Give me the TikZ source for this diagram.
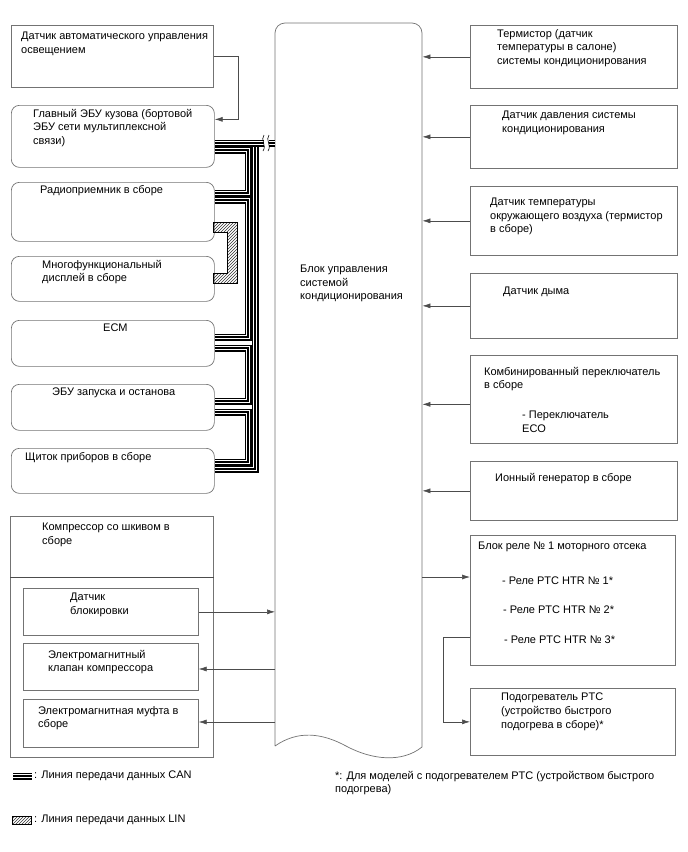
\documentclass[tikz,border=0pt]{standalone}
\usepackage{fontspec}
\setmainfont{Liberation Sans}
\usetikzlibrary{arrows.meta,patterns}
\begin{document}
\begin{tikzpicture}[x=1pt,y=-1pt,
  box/.style={draw=black!55, line width=0.7pt, anchor=north west, inner sep=0, fill=white},
  rbox/.style={box, rounded corners=8pt},
  txt/.style={anchor=north west, inner sep=0, align=left, font=\fontsize{11}{13.6}\selectfont},
  conn/.style={draw=black!70, line width=0.6pt},
  arr/.style={conn, -{Latex[length=8pt,width=5pt]}},
  can/.style={line width=7pt, black, line cap=butt,
    postaction={draw, white, line width=4.2pt},
    postaction={draw, black, line width=1.4pt}},
  lin/.style={draw=black, line width=0.6pt, pattern=north east lines, pattern color=black!80}
]
\useasboundingbox (0,0) rectangle (688,852);

% ---------- left column ----------
\node[box, minimum width=202pt, minimum height=62pt] (b1) at (11,25) {};
\node[rbox, minimum width=203pt, minimum height=62pt] (ecu) at (11,105) {};
\node[rbox, minimum width=203pt, minimum height=59pt] (radio) at (11,182) {};
\node[rbox, minimum width=203pt, minimum height=45pt] (disp) at (11,256) {};
\node[rbox, minimum width=203pt, minimum height=46pt] (ecm) at (11,320) {};
\node[rbox, minimum width=203pt, minimum height=46pt] (stop) at (11,384) {};
\node[rbox, minimum width=203pt, minimum height=45pt] (sh) at (11,448) {};

\node[txt] (t1) at (21,32) {Датчик автоматического управления\\освещением};
\node[txt] (tecu) at (33,109) {Главный ЭБУ кузова (бортовой\\ЭБУ сети мультиплексной\\связи)};
\node[txt] (tradio) at (40,185) {Радиоприемник в сборе};
\node[txt] (tdisp) at (42,260) {Многофункциональный\\дисплей в сборе};
\node[txt] (tecm) at (103,324) {ECM};
\node[txt] (tstop) at (52,388) {ЭБУ запуска и останова};
\node[txt] (tsh) at (25,452) {Щиток приборов в сборе};

% compressor group
\node[box, minimum width=203pt, minimum height=241pt] (comp) at (10,516) {};
\draw[conn] (comp.west |- 0,577) -- (comp.east |- 0,577);
\node[txt] (tcomp) at (42,523) {Компрессор со шкивом в\\сборе};
\node[box, minimum width=175pt, minimum height=47pt] (blok) at (23,588) {};
\node[box, minimum width=175pt, minimum height=47pt] (klap) at (23,643) {};
\node[box, minimum width=175pt, minimum height=48pt] (muft) at (23,699) {};
\node[txt] (tblok) at (70,593) {Датчик\\блокировки};
\node[txt] (tklap) at (48,650) {Электромагнитный\\клапан компрессора};
\node[txt] (tmuft) at (38,706) {Электромагнитная муфта в\\сборе};

% ---------- central block ----------
\node[inner sep=0, minimum width=147pt, minimum height=723pt, anchor=north west] (blk) at (275,23) {};
\draw[draw=black!55, line width=0.7pt, fill=white]
  (275,746) -- (275,33) arc[start angle=180, end angle=270, radius=10]
  -- (412,23) arc[start angle=270, end angle=360, radius=10]
  -- (422,747)
  .. controls (402,763) and (372,760) .. (346,746)
  .. controls (322,733) and (298,730) .. (275,746);
\node[txt] (tblk) at (300,265) {Блок управления\\системой\\кондиционирования};

% ---------- right column ----------
\node[box, minimum width=207pt, minimum height=63pt] (ra) at (470,25) {};
\node[box, minimum width=207pt, minimum height=63pt] (rb) at (470,105) {};
\node[box, minimum width=207pt, minimum height=69pt] (rc) at (470,186) {};
\node[box, minimum width=207pt, minimum height=65pt] (rd) at (470,273) {};
\node[box, minimum width=207pt, minimum height=88pt] (re) at (470,355) {};
\node[box, minimum width=207pt, minimum height=59pt] (rf) at (470,461) {};
\node[box, minimum width=205pt, minimum height=130pt] (rg) at (470,535) {};
\node[box, minimum width=205pt, minimum height=67pt] (rh) at (470,688) {};

\node[txt] (tra) at (497,29) {Термистор (датчик\\температуры в салоне)\\системы кондиционирования};
\node[txt] (trb) at (502,111) {Датчик давления системы\\кондиционирования};
\node[txt] (trc) at (490,198) {Датчик температуры\\окружающего воздуха (термистор\\в сборе)};
\node[txt] (trd) at (503,287) {Датчик дыма};
\node[txt] (tre) at (484,367) {Комбинированный переключатель\\в сборе};
\node[txt] (tre2) at (522,411) {- Переключатель\\ECO};
\node[txt] (trf) at (495,473) {Ионный генератор в сборе};
\node[txt] (trg) at (478,542) {Блок реле № 1 моторного отсека};
\node[txt] (trg1) at (502,577) {- Реле PTC HTR № 1*};
\node[txt] (trg2) at (503,606) {- Реле PTC HTR № 2*};
\node[txt] (trg3) at (504,636) {- Реле PTC HTR № 3*};
\node[txt] (trh) at (501,693) {Подогреватель PTC\\(устройство быстрого\\подогрева в сборе)*};

% ---------- connectors ----------
\draw[arr] (b1.east) -- ++(25,0) |- ([yshift=17pt]ecu.east);
\draw[arr] (ra.west) -- (ra.west -| blk.east);
\draw[arr] (rb.west) -- (rb.west -| blk.east);
\draw[arr] (rc.west) -- (rc.west -| blk.east);
\draw[arr] (rd.west) -- (rd.west -| blk.east);
\draw[arr] ([yshift=-5pt]re.west) -- ([yshift=-5pt]re.west -| blk.east);
\draw[arr] (rf.west) -- (rf.west -| blk.east);
\draw[arr] (blk.east |- 0,577) -- (rg.west |- 0,577);
\draw[arr] ([yshift=-37pt]rg.west) -- ++(-27,0) |- (rh.west);
\draw[arr] (blok.east) -- (blok.east -| blk.west);
\draw[arr] (blk.west |- 0,669) -- (klap.east |- 0,669);
\draw[arr] (blk.west |- 0,722) -- (muft.east |- 0,722);

% ---------- CAN bus ----------
\coordinate (jt) at (255,143);
\draw[can] (ecu.east |- 0,150) -- (248,150) -- (248,193) -- (radio.east |- 0,193);
\draw[can] (radio.east |- 0,200) -- (248,200) -- (248,337) -- (ecm.east |- 0,337);
\draw[can] (ecm.east |- 0,348) -- (248,348) -- (248,401) -- (stop.east |- 0,401);
\draw[can] (stop.east |- 0,412) -- (248,412) -- (248,462) -- (sh.east |- 0,462);
\draw[can] (jt) -- (255,469) -- (sh.east |- 0,469);
\draw[can] (ecu.east |- 0,143) -- (blk.west |- 0,143);
% break mark
\fill[white] (263.5,137) rectangle (268.5,149);
\draw[black, line width=0.6pt] (264,135) .. controls (260,140) and (267,145) .. (263,151);
\draw[black, line width=0.6pt] (269,135) .. controls (265,140) and (272,145) .. (268,151);

% ---------- LIN ----------
\draw[lin] (213,222) -- (237,222) -- (237,283) -- (213,283) -- (213,273) -- (227,273) -- (227,232) -- (213,232) -- cycle;

% ---------- legend ----------
\coordinate (cl1) at (13,776);
\coordinate (cl2) at (32,776);
\draw[can] (cl1) -- (cl2);
\node[txt] (tcan) at (34,771) {: Линия передачи данных CAN};
\node[lin, minimum width=19pt, minimum height=8pt, inner sep=0, anchor=west] (linsym) at (12,820) {};
\node[txt] (tlin) at (34,815) {: Линия передачи данных LIN};
\node[txt] (tfoot) at (335,771) {*: Для моделей с подогревателем PTC (устройством быстрого\\подогрева)};
\end{tikzpicture}
\end{document}
